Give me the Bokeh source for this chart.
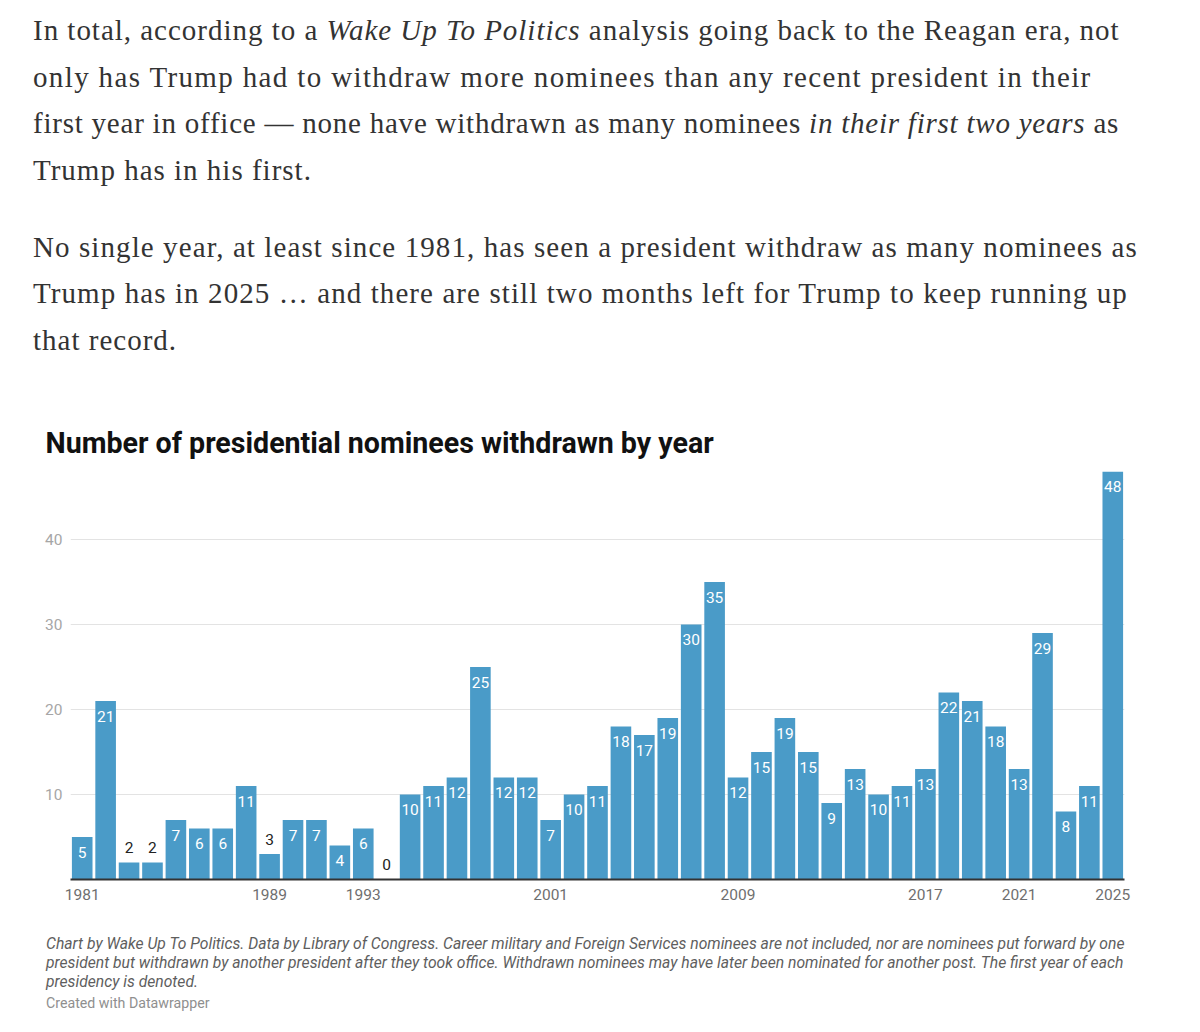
from bokeh.plotting import figure
from bokeh.models import Div, ColumnDataSource, FixedTicker, Range1d
from bokeh.layouts import column
from bokeh.core.properties import value
from bokeh.embed import file_html
from bokeh.resources import INLINE

# ---- data ----
years = list(range(1981, 2026))
withdrawn = [5, 21, 2, 2, 7, 6, 6, 11, 3, 7, 7, 4, 6, 0, 10, 11, 12, 25, 12, 12,
             7, 10, 11, 18, 17, 19, 30, 35, 12, 15, 19, 15, 9, 13, 10, 11, 13, 22,
             21, 18, 13, 29, 8, 11, 48]
first_years = [1981, 1989, 1993, 2001, 2009, 2017, 2021, 2025]
y_ticks = [10, 20, 30, 40]

title_text = "Number of presidential nominees withdrawn by year"
notes_text = [
    "Chart by Wake Up To Politics. Data by Library of Congress. Career military and Foreign Services nominees are not included, nor are nominees put forward by one",
    "president but withdrawn by another president after they took office. Withdrawn nominees may have later been nominated for another post. The first year of each",
    "presidency is denoted.",
]
credit_text = "Created with Datawrapper"

# ---- intro paragraphs ----
para_style = ("font-family:'Liberation Serif',serif;font-size:29px;line-height:46.5px;"
              "color:#333333;white-space:nowrap;margin:0;padding:0 0 0 28px;")


def line(html, ls):
    return f"<span style=\"letter-spacing:{ls}px\">{html}</span>"


intro_html = (
    f"<div style=\"{para_style}padding-top:2px;\">"
    + "<br>".join([
        line("In total, according to a <i>Wake Up To Politics</i> analysis going back to the Reagan era, not", 0.98),
        line("only has Trump had to withdraw more nominees than any recent president in their", 1.36),
        line("first year in office \u2014 none have withdrawn as many nominees <i>in their first two years</i> as", 0.77),
        line("Trump has in his first.", 1.0),
    ])
    + "</div>"
    f"<div style=\"{para_style}margin-top:30.5px;\">"
    + "<br>".join([
        line("No single year, at least since 1981, has seen a president withdraw as many nominees as", 1.09),
        line("Trump has in 2025 \u2026 and there are still two months left for Trump to keep running up", 1.09),
        line("that record.", 1.0),
    ])
    + "</div>"
)
intro = Div(text=intro_html, width=1191, height=391)

# ---- chart ----
inside = [v >= 4 for v in withdrawn]
src_in = ColumnDataSource(dict(x=[y for y, f in zip(years, inside) if f],
                               y=[v for v, f in zip(withdrawn, inside) if f],
                               t=[str(v) for v, f in zip(withdrawn, inside) if f]))
src_out = ColumnDataSource(dict(x=[y for y, f in zip(years, inside) if not f],
                                y=[v for v, f in zip(withdrawn, inside) if not f],
                                t=[str(v) for v, f in zip(withdrawn, inside) if not f]))
src = ColumnDataSource(dict(x=years, top=withdrawn))

p = figure(width=1191, height=525, output_backend="svg", toolbar_location=None,
           x_range=Range1d(1980.5, 2025.5), y_range=Range1d(0, 48),
           min_border_left=70, min_border_right=67, min_border_top=70, min_border_bottom=47)
p.background_fill_color = "white"
p.border_fill_color = "white"
p.outline_line_color = None

p.title.text = title_text
p.title.text_font = "Roboto"
p.title.text_font_style = "bold"
p.title.text_font_size = "28.6px"
p.title.text_color = "#111111"
p.title.align = "left"
p.title.offset = -25
p.title.standoff = 23

p.vbar(x="x", top="top", width=0.88, bottom=0, source=src,
       fill_color="#4a9bc8", line_color=None)

p.text(x="x", y="y", text="t", source=src_in, text_font=value("Roboto"),
       text_font_size="15.5px", text_color="white", text_align="center",
       text_baseline="middle", y_offset=15)
p.text(x="x", y="y", text="t", source=src_out, text_font=value("Roboto"),
       text_font_size="15.5px", text_color="#222222", text_align="center",
       text_baseline="middle", y_offset=-15)

p.xgrid.grid_line_color = None
p.ygrid.ticker = FixedTicker(ticks=y_ticks)
p.ygrid.grid_line_color = "#e3e3e3"
p.ygrid.grid_line_width = 1

p.yaxis.ticker = FixedTicker(ticks=y_ticks)
p.yaxis.axis_line_color = None
p.yaxis.major_tick_line_color = None
p.yaxis.minor_tick_line_color = None
p.yaxis.major_tick_out = 0
p.yaxis.major_label_standoff = 8
p.yaxis.major_label_text_font = "Roboto"
p.yaxis.major_label_text_font_size = "15.5px"
p.yaxis.major_label_text_color = "#a6a6a6"

p.xaxis.ticker = FixedTicker(ticks=first_years)
p.xaxis.axis_line_color = "#333333"
p.xaxis.axis_line_width = 2
p.xaxis.major_tick_line_color = None
p.xaxis.minor_tick_line_color = None
p.xaxis.major_tick_out = 0
p.xaxis.major_label_standoff = 9
p.xaxis.major_label_text_font = "Roboto"
p.xaxis.major_label_text_font_size = "15.5px"
p.xaxis.major_label_text_color = "#6f6f6f"

# ---- notes ----
notes_html = (
    "<div style=\"font-family:Roboto,sans-serif;font-size:15.7px;font-style:italic;"
    "line-height:19px;color:#5e5e5e;white-space:nowrap;padding:3px 0 0 41px;margin:0;\">"
    + "<br>".join(notes_text) +
    "</div>"
    "<div style=\"font-family:Roboto,sans-serif;font-size:14.2px;line-height:19px;color:#8f8f8f;"
    "padding:3px 0 0 41px;margin:0;\">" + credit_text + "</div>"
)
notes = Div(text=notes_html, width=1191, height=99)

layout = column(intro, p, notes)
open("out.html", "w").write(file_html(layout, INLINE))
